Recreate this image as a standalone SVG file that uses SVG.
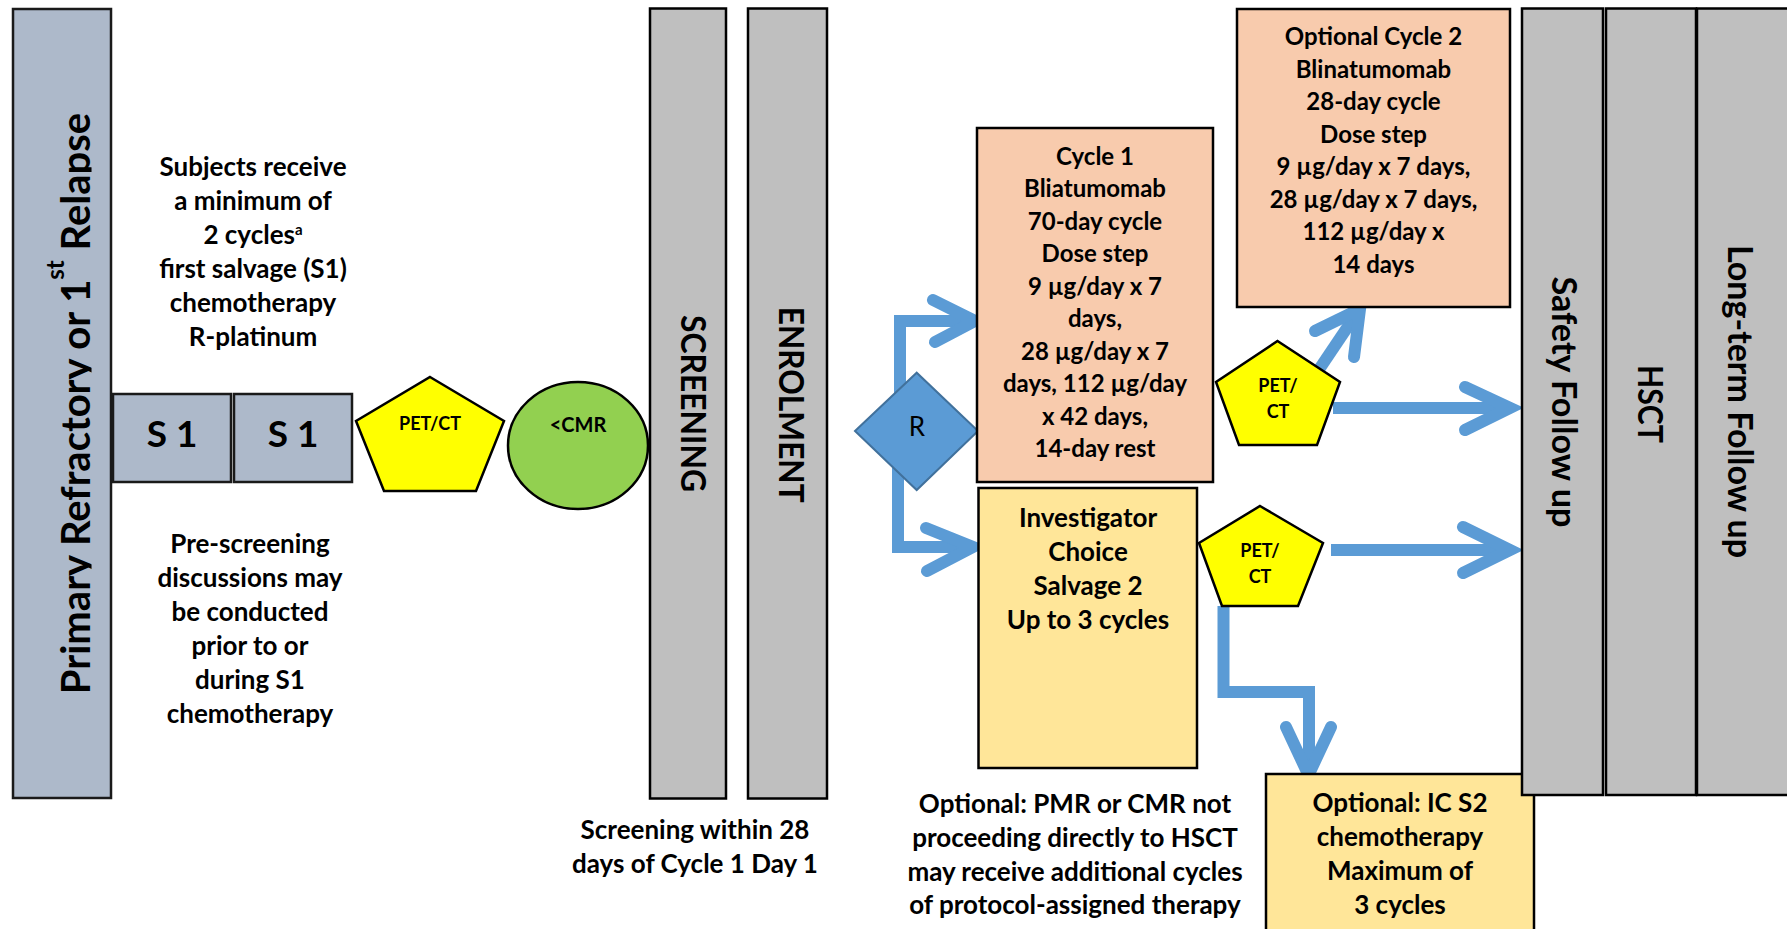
<svg xmlns="http://www.w3.org/2000/svg" width="1787" height="929" viewBox="0 0 1787 929">
<style>
text { font-family: Lato, "Open Sans", "Liberation Sans", sans-serif; font-weight: 700; fill: #000; text-anchor: middle; }
.f26 { font-size: 26px; }
.f24 { font-size: 24px; }
.f18 { font-size: 18px; }
.rot { font-size: 34px; }
.col { fill: #bfbfbf; stroke: #000; stroke-width: 2.5; }
.blue { fill: #adb9ca; stroke: #1a1a1a; stroke-width: 2.5; }
.peach { fill: #f8cbad; stroke: #000; stroke-width: 2.5; }
.ylw { fill: #ffe699; stroke: #000; stroke-width: 2.5; }
.pent { fill: #ffff00; stroke: #000; stroke-width: 2.5; stroke-linejoin: miter; }
.con { fill: none; stroke: #5b9bd5; stroke-width: 12; }
.head { fill: none; stroke: #5b9bd5; stroke-width: 12; stroke-linecap: round; stroke-linejoin: miter; stroke-miterlimit: 10; }
</style>
<defs>
<clipPath id="clipL" clipPathUnits="userSpaceOnUse"><rect x="13" y="9" width="78.5" height="789"/></clipPath>
</defs>
<rect width="1787" height="929" fill="#fff"/>

<g id="left-column">
<rect class="blue" x="13" y="9" width="98" height="789"/>
<g clip-path="url(#clipL)">
<text transform="translate(90,403.5) rotate(-90)" style="font-size:40px">Primary Refractory or 1<tspan style="font-size:24px" dy="-26">st</tspan><tspan dy="26"> Relapse</tspan></text>
</g>
</g>

<g id="note-s1">
<text class="f26" x="253" y="176">Subjects receive</text>
<text class="f26" x="253" y="210">a minimum of</text>
<text class="f26" x="253" y="244">2 cycles<tspan style="font-size:15px" dy="-9">a</tspan></text>
<text class="f26" x="253" y="278">first salvage (S1)</text>
<text class="f26" x="253" y="312">chemotherapy</text>
<text class="f26" x="253" y="346">R-platinum</text>
</g>

<g id="s1-a">
<rect class="blue" x="113" y="394" width="118" height="88"/>
<text x="172" y="447" style="font-size:37px">S 1</text>
</g>
<g id="s1-b">
<rect class="blue" x="234" y="394" width="118" height="88"/>
<text x="293" y="447" style="font-size:37px">S 1</text>
</g>

<g id="note-prescreening">
<text class="f26" x="250" y="553">Pre-screening</text>
<text class="f26" x="250" y="587">discussions may</text>
<text class="f26" x="250" y="621">be conducted</text>
<text class="f26" x="250" y="655">prior to or</text>
<text class="f26" x="250" y="689">during S1</text>
<text class="f26" x="250" y="723">chemotherapy</text>
</g>

<g id="petct-1">
<polygon class="pent" points="430,377 504,421 476,491 384,491 356,421"/>
<text class="f18" x="430" y="430">PET/CT</text>
</g>

<g id="cmr">
<ellipse cx="578" cy="445.5" rx="70" ry="63.5" fill="#92d050" stroke="#000" stroke-width="2.5"/>
<text x="578" y="432" style="font-size:20px">&lt;CMR</text>
</g>

<g id="screening">
<rect class="col" x="650" y="8.5" width="76" height="790"/>
<text class="rot" transform="translate(681,403.5) rotate(90)" textLength="177" lengthAdjust="spacingAndGlyphs">SCREENING</text>
</g>

<g id="enrolment">
<rect class="col" x="748" y="8.5" width="79" height="790"/>
<text class="rot" transform="translate(779,404.7) rotate(90)" textLength="196" lengthAdjust="spacingAndGlyphs">ENROLMENT</text>
</g>

<g id="note-screening">
<text class="f26" x="695" y="839">Screening within 28</text>
<text class="f26" x="695" y="873">days of Cycle 1 Day 1</text>
</g>

<g id="connectors">
<path class="con" d="M900,431 V321 H968"/>
<path class="head" d="M933,300 L975,321 L935,342"/>
<path class="con" d="M898,431 V547 H966"/>
<path class="head" d="M926,528 L973,547 L927,571"/>
<path class="con" d="M1320,368 L1355,316"/>
<path class="head" d="M1315,331 L1360,309 L1354,357"/>
<path class="con" d="M1333,408 H1504"/>
<path class="head" d="M1465,387 L1510,408 L1465,430"/>
<path class="con" d="M1331,550 H1504"/>
<path class="head" d="M1463,527 L1510,550 L1463,573"/>
<path class="con" d="M1223.5,606 V692 H1309 V768"/>
<path class="head" d="M1286,727 L1308.5,775 L1331,727"/>
</g>

<g id="randomise">
<polygon points="855,431 916.7,372.7 978,431 916.7,490" fill="#5b9bd5" stroke="#41719c" stroke-width="2"/>
<text x="917" y="436" style="font-size:26px;font-weight:400">R</text>
</g>

<g id="cycle1">
<rect class="peach" x="977" y="128" width="236" height="354"/>
<text class="f24" x="1095" y="164.5">Cycle 1</text>
<text class="f24" x="1095" y="197">Bliatumomab</text>
<text class="f24" x="1095" y="229.5">70-day cycle</text>
<text class="f24" x="1095" y="262">Dose step</text>
<text class="f24" x="1095" y="294.5">9 µg/day x 7</text>
<text class="f24" x="1095" y="327">days,</text>
<text class="f24" x="1095" y="359.5">28 µg/day x 7</text>
<text class="f24" x="1095" y="392">days, 112 µg/day</text>
<text class="f24" x="1095" y="424.5">x 42 days,</text>
<text class="f24" x="1095" y="457">14-day rest</text>
</g>

<g id="investigator-choice">
<rect class="ylw" x="978.5" y="488" width="218.5" height="280"/>
<text class="f26" x="1088" y="527">Investigator</text>
<text class="f26" x="1088" y="561">Choice</text>
<text class="f26" x="1088" y="595">Salvage 2</text>
<text class="f26" x="1088" y="629">Up to 3 cycles</text>
</g>

<g id="cycle2">
<rect class="peach" x="1237" y="9" width="273" height="298"/>
<text class="f24" x="1373.5" y="45">Optional Cycle 2</text>
<text class="f24" x="1373.5" y="77.5">Blinatumomab</text>
<text class="f24" x="1373.5" y="110">28-day cycle</text>
<text class="f24" x="1373.5" y="142.5">Dose step</text>
<text class="f24" x="1373.5" y="175">9 µg/day x 7 days,</text>
<text class="f24" x="1373.5" y="207.5">28 µg/day x 7 days,</text>
<text class="f24" x="1373.5" y="240">112 µg/day x</text>
<text class="f24" x="1373.5" y="272.5">14 days</text>
</g>

<g id="petct-2">
<polygon class="pent" points="1277.5,341 1340,382 1317,445 1239,445 1216,382"/>
<text class="f18" x="1278" y="392">PET/</text>
<text class="f18" x="1278" y="418">CT</text>
</g>

<g id="petct-3">
<polygon class="pent" points="1260,506 1323,543 1298,606 1222,606 1199,543"/>
<text class="f18" x="1260" y="557">PET/</text>
<text class="f18" x="1260" y="583">CT</text>
</g>

<g id="note-optional">
<text class="f26" x="1075" y="813">Optional: PMR or CMR not</text>
<text class="f26" x="1075" y="847">proceeding directly to HSCT</text>
<text class="f26" x="1075" y="881">may receive additional cycles</text>
<text class="f26" x="1075" y="914">of protocol-assigned therapy</text>
</g>

<g id="ic-s2">
<rect class="ylw" x="1266" y="774" width="268" height="170"/>
<text class="f26" x="1400" y="812">Optional: IC S2</text>
<text class="f26" x="1400" y="846">chemotherapy</text>
<text class="f26" x="1400" y="880">Maximum of</text>
<text class="f26" x="1400" y="914">3 cycles</text>
</g>

<g id="safety-follow-up">
<rect class="col" x="1522" y="8.5" width="81" height="786.5"/>
<text class="rot" transform="translate(1552,402) rotate(90)" textLength="251" lengthAdjust="spacingAndGlyphs">Safety Follow up</text>
</g>

<g id="hsct">
<rect class="col" x="1606" y="8.5" width="90" height="786.5"/>
<text class="rot" transform="translate(1638,404) rotate(90)" textLength="78" lengthAdjust="spacingAndGlyphs">HSCT</text>
</g>

<g id="long-term-follow-up">
<rect class="col" x="1697" y="8.5" width="120" height="786.5"/>
<text class="rot" transform="translate(1728,401.5) rotate(90)" textLength="313" lengthAdjust="spacingAndGlyphs">Long-term Follow up</text>
</g>
</svg>
